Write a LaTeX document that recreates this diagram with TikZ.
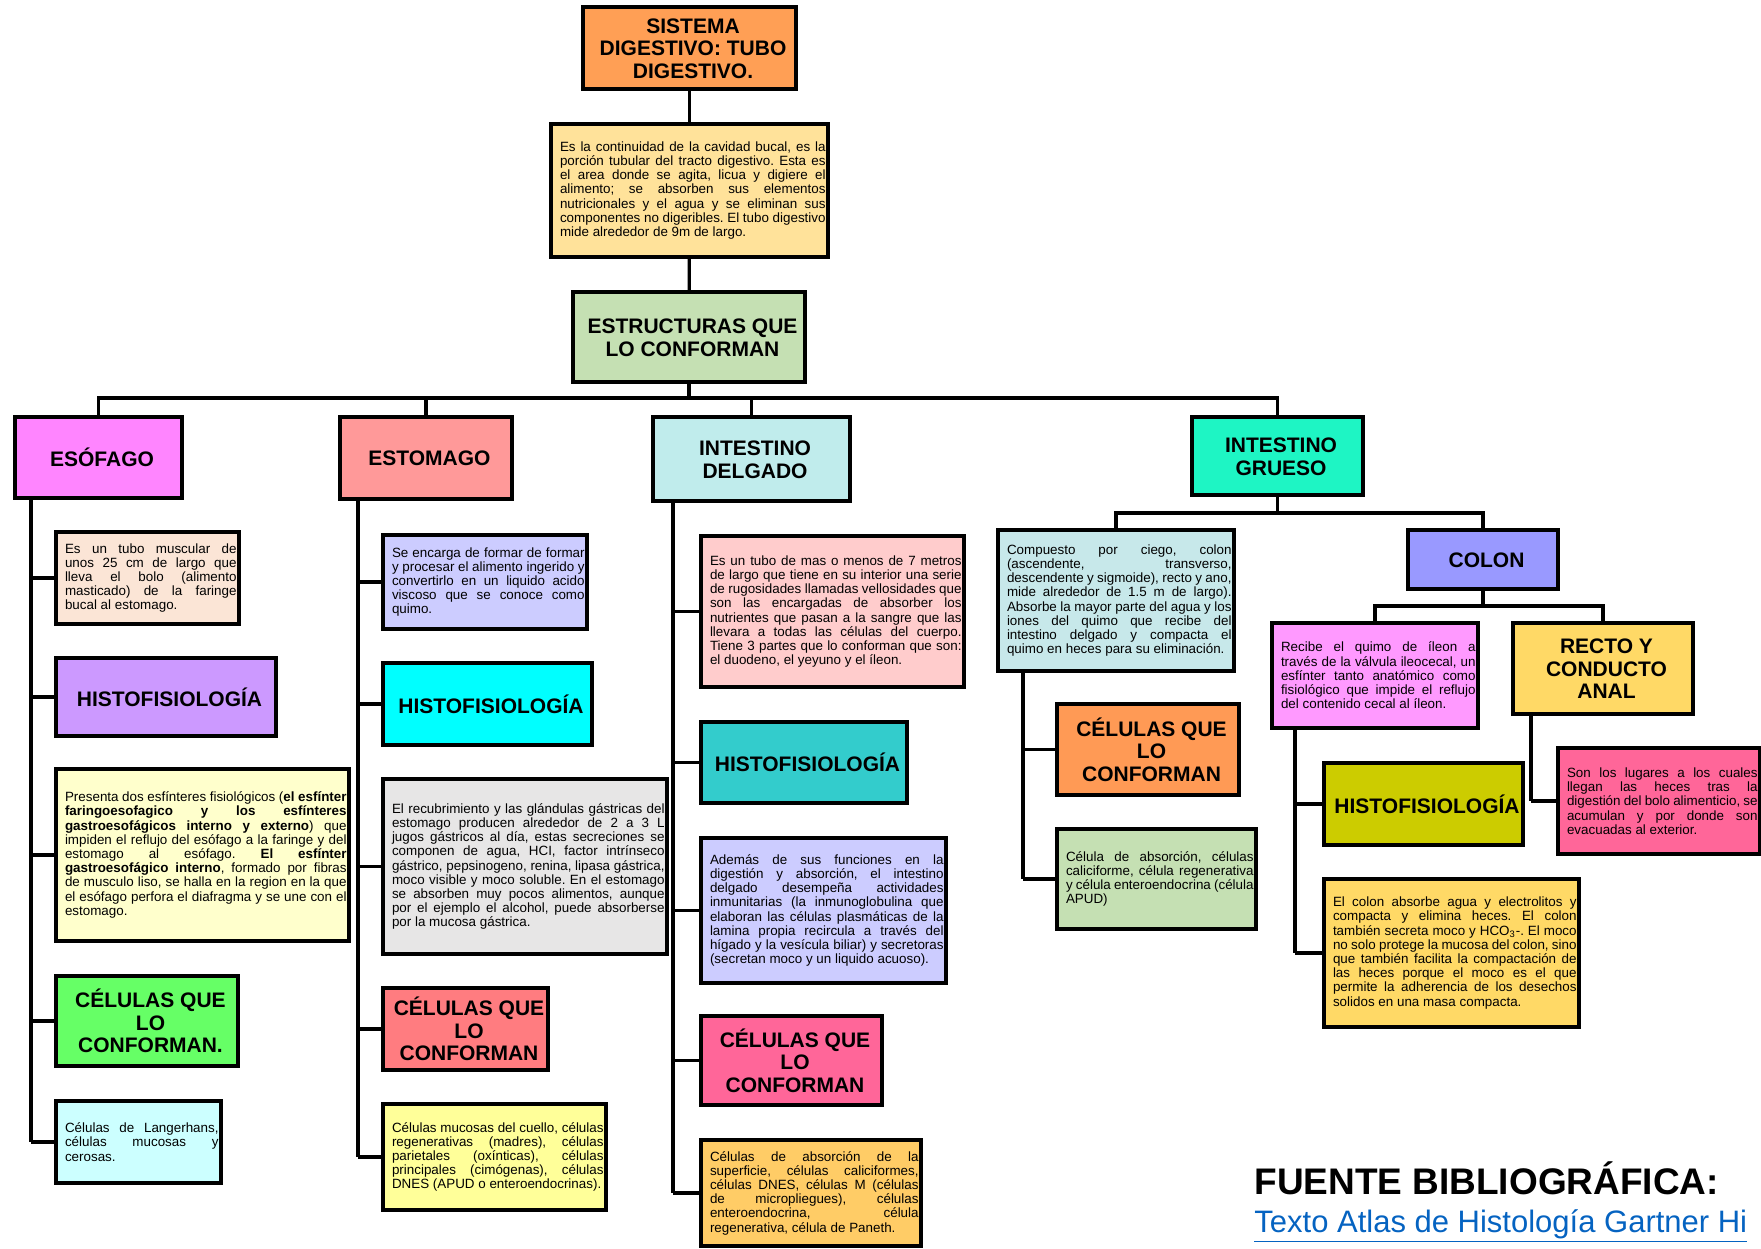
\documentclass[tikz,border=0pt]{standalone}
\usepackage{fontspec}
\setmainfont{Liberation Sans}
\newcommand\smtxt{\fontsize{6.7}{7.1}\selectfont}
\newcommand\ttltxt{\fontsize{10.5}{11.25}\selectfont\bfseries}
\newcommand\bxt[2]{\hspace*{3.3pt}\parbox{#1}{\smtxt\frenchspacing\hyphenpenalty=10000\exhyphenpenalty=10000\tolerance=10000\spaceskip=0.278em plus 2em minus 0.08em\relax\parindent=0pt #2}}
\newcommand\tl[1]{\hspace*{3.5pt}\begin{tabular}[b]{@{}c@{}}#1\end{tabular}}
\newcommand\br{\linebreak}
\definecolor{cTop}{HTML}{FF9F55}
\definecolor{cDesc}{HTML}{FFE29A}
\definecolor{cEstr}{HTML}{C5E0B3}
\definecolor{cEsof}{HTML}{FF85FF}
\definecolor{cEstom}{HTML}{FF9999}
\definecolor{cInDel}{HTML}{C0ECEC}
\definecolor{cInGr}{HTML}{1EF5C4}
\definecolor{cPeach}{HTML}{FBE5D6}
\definecolor{cLav}{HTML}{CC99FF}
\definecolor{cLYel}{HTML}{FFFFCC}
\definecolor{cGreen}{HTML}{66FF66}
\definecolor{cLCyan}{HTML}{CCFFFF}
\definecolor{cPeri}{HTML}{CCCCFF}
\definecolor{cCyan}{HTML}{00FFFF}
\definecolor{cGray}{HTML}{E7E6E6}
\definecolor{cSalm}{HTML}{FF7C80}
\definecolor{cYel}{HTML}{FFFF99}
\definecolor{cPink}{HTML}{FFCCCC}
\definecolor{cTeal}{HTML}{33CCCC}
\definecolor{cRose}{HTML}{FF6699}
\definecolor{cGold}{HTML}{FFCC66}
\definecolor{cAqua}{HTML}{C7E8EA}
\definecolor{cBlue}{HTML}{9999FF}
\definecolor{cOrng}{HTML}{FF9A55}
\definecolor{cMag}{HTML}{FF99FF}
\definecolor{cSand}{HTML}{FFD966}
\definecolor{cOlive}{HTML}{CCCC00}
\definecolor{cLink}{HTML}{0563C1}
\begin{document}
\begin{tikzpicture}[x=0.5pt,y=-0.5pt,
  conn/.style={line width=1.6pt,black},
  box/.style={draw=black,line width=1.6pt,inner sep=0pt},
  ttl/.style={box,font=\ttltxt,text depth=0pt},
  txt/.style={box,inner xsep=1.2pt},
]
\useasboundingbox (0,0) rectangle (1761,1248);
\clip (0,0) rectangle (1761,1248);

% main stem
\node[ttl,fill=cTop,minimum width=106.5pt,minimum height=41pt] (top) at (689.5,48) {\tl{SISTEMA\\DIGESTIVO: TUBO\\DIGESTIVO.}};
\node[txt,fill=cDesc,minimum width=138.5pt,minimum height=66.5pt] (desc) at (689.5,190.5)
 {\bxt{132.8pt}{Es la continuidad de la cavidad bucal, es la \br porción tubular del tracto digestivo. Esta es \br el area donde se agita, licua y digiere el \br alimento; se absorben sus elementos \br nutricionales y el agua y se eliminan sus \br componentes no digeribles. El tubo digestivo \br mide alrededor de 9m de largo.}};
\node[ttl,fill=cEstr,minimum width=116pt,minimum height=45pt] (estr) at (689,337) {\tl{ESTRUCTURAS QUE\\LO CONFORMAN}};

% level 1
\node[ttl,fill=cEsof,minimum width=83.5pt,minimum height=40.5pt] (esof) at (98.5,457.5) {\tl{ESÓFAGO}};
\node[ttl,fill=cEstom,minimum width=86pt,minimum height=41pt] (estom) at (426,458) {\tl{ESTOMAGO}};
\node[ttl,fill=cInDel,minimum width=98.5pt,minimum height=42pt] (indel) at (751.5,459) {\tl{INTESTINO\\DELGADO}};
\node[ttl,fill=cInGr,minimum width=85.5pt,minimum height=39pt] (ingr) at (1277.5,456) {\tl{INTESTINO\\GRUESO}};

% esofago column
\node[txt,fill=cPeach,minimum width=91.5pt,minimum height=46pt] (e1) at (147.5,578)
 {\bxt{85.8pt}{Es un tubo muscular de \br unos 25 cm de largo que \br lleva el bolo (alimento \br masticado) de la faringe \br bucal al estomago.}};
\node[ttl,fill=cLav,minimum width=110pt,minimum height=39pt] (e2) at (166,697) {\tl{HISTOFISIOLOGÍA}};
\node[txt,fill=cLYel,minimum width=146.5pt,minimum height=86pt] (e3) at (202.5,855)
 {\bxt{140.8pt}{Presenta dos esfínteres fisiológicos (\textbf{el esfínter \br faringoesofagico y los esfínteres \br gastroesofágicos interno y externo}) que \br impiden el reflujo del esófago a la faringe y del \br estomago al esófago. \textbf{El esfínter \br gastroesofágico interno}, formado por fibras \br de musculo liso, se halla en la region en la que \br el esófago perfora el diafragma y se une con el \br estomago.}};
\node[ttl,fill=cGreen,minimum width=91pt,minimum height=45pt] (e4) at (147,1021) {\tl{CÉLULAS QUE\\LO\\CONFORMAN.}};
\node[txt,fill=cLCyan,minimum width=82.5pt,minimum height=41pt] (e5) at (138.5,1142)
 {\bxt{76.8pt}{Células de Langerhans, \br células mucosas y \br cerosas.}};

% estomago column
\node[txt,fill=cPeri,minimum width=102pt,minimum height=47pt] (s1) at (485,582)
 {\bxt{96.3pt}{Se encarga de formar de formar \br y procesar el alimento ingerido y \br convertirlo en un liquido acido \br viscoso que se conoce como \br quimo.}};
\node[ttl,fill=cCyan,minimum width=104.5pt,minimum height=41pt] (s2) at (487.5,704) {\tl{HISTOFISIOLOGÍA}};
\node[txt,fill=cGray,minimum width=142pt,minimum height=87.5pt] (s3) at (525,866.5)
 {\bxt{136.3pt}{El recubrimiento y las glándulas gástricas del \br estomago producen alrededor de 2 a 3 L \br jugos gástricos al día, estas secreciones se \br componen de agua, HCI, factor intrínseco \br gástrico, pepsinogeno, renina, lipasa gástrica, \br moco visible y moco soluble. En el estomago \br se absorben muy pocos alimentos, aunque \br por el ejemplo el alcohol, puede absorberse \br por la mucosa gástrica.}};
\node[ttl,fill=cSalm,minimum width=82.5pt,minimum height=41pt] (s4) at (465.5,1029) {\tl{CÉLULAS QUE\\LO\\CONFORMAN}};
\node[txt,fill=cYel,minimum width=111.5pt,minimum height=53pt] (s5) at (494.5,1157)
 {\bxt{105.8pt}{Células mucosas del cuello, células \br regenerativas (madres), células \br parietales (oxínticas), células \br principales (cimógenas), células \br DNES (APUD o enteroendocrinas).}};

% intestino delgado column
\node[txt,fill=cPink,minimum width=131.5pt,minimum height=75.5pt] (d1) at (832.5,611.5)
 {\bxt{125.8pt}{Es un tubo de mas o menos de 7 metros \br de largo que tiene en su interior una serie \br de rugosidades llamadas vellosidades que \br son las encargadas de absorber los \br nutrientes que pasan a la sangre que las \br llevara a todas las células del cuerpo. \br Tiene 3 partes que lo conforman que son: \br el duodeno, el yeyuno y el íleon.}};
\node[ttl,fill=cTeal,minimum width=103pt,minimum height=40.5pt] (d2) at (804,762.5) {\tl{HISTOFISIOLOGÍA}};
\node[txt,fill=cPeri,minimum width=122.5pt,minimum height=72.5pt] (d3) at (823.5,910.5)
 {\bxt{116.8pt}{Además de sus funciones en la \br digestión y absorción, el intestino \br delgado desempeña actividades \br inmunitarias (la inmunoglobulina que \br elaboran las células plasmáticas de la \br lamina propia recircula a través del \br hígado y la vesícula biliar) y secretoras \br (secretan moco y un liquido acuoso).}};
\node[ttl,fill=cRose,minimum width=90.5pt,minimum height=44.5pt] (d4) at (791.5,1060.5) {\tl{CÉLULAS QUE\\LO\\CONFORMAN}};
\node[txt,fill=cGold,minimum width=110pt,minimum height=53pt] (d5) at (811,1193)
 {\bxt{104.3pt}{Células de absorción de la \br superficie, células caliciformes, \br células DNES, células M (células \br de micropliegues), células \br enteroendocrina, célula \br regenerativa, célula de Paneth.}};

% intestino grueso
\node[txt,fill=cAqua,minimum width=118pt,minimum height=70.5pt] (g1) at (1116,600.5)
 {\bxt{112.3pt}{Compuesto por ciego, colon \br (ascendente, transverso, \br descendente y sigmoide), recto y ano, \br mide alrededor de 1.5 m de largo). \br Absorbe la mayor parte del agua y los \br iones del quimo que recibe del \br intestino delgado y compacta el \br quimo en heces para su eliminación.}};
\node[ttl,fill=cBlue,minimum width=75pt,minimum height=29.5pt] (colon) at (1483,559.5) {\tl{COLON}};
\node[ttl,fill=cOrng,minimum width=91pt,minimum height=45.5pt] (g2) at (1148,749.5) {\tl{CÉLULAS QUE\\LO\\CONFORMAN}};
\node[txt,fill=cEstr,minimum width=99.5pt,minimum height=50pt] (g3) at (1156.5,879)
 {\bxt{93.8pt}{Célula de absorción, células \br caliciforme, célula regenerativa \br y célula enteroendocrina (célula \br APUD)}};
\node[txt,fill=cMag,minimum width=103pt,minimum height=52.5pt] (c1) at (1375,675.5)
 {\bxt{97.3pt}{Recibe el quimo de íleon a \br través de la válvula ileocecal, un \br esfínter tanto anatómico como \br fisiológico que impide el reflujo \br del contenido cecal al íleon.}};
\node[ttl,fill=cSand,minimum width=90pt,minimum height=45.5pt] (c2) at (1603,668.5) {\tl{RECTO Y\\CONDUCTO\\ANAL}};
\node[ttl,fill=cOlive,minimum width=99.5pt,minimum height=41pt] (c3) at (1423.5,804) {\tl{HISTOFISIOLOGÍA}};
\node[txt,fill=cSand,minimum width=127.5pt,minimum height=74pt] (c4) at (1451.5,953)
 {\bxt{121.8pt}{El colon absorbe agua y electrolitos y \br compacta y elimina heces. El colon \br también secreta moco y HCO\textsubscript{3}-. El moco \br no solo protege la mucosa del colon, sino \br que también facilita la compactación de \br las heces porque el moco es el que \br permite la adherencia de los desechos \br solidos en una masa compacta.}};
\node[txt,fill=cRose,minimum width=101pt,minimum height=53pt] (c5) at (1659,801)
 {\bxt{95.3pt}{Son los lugares a los cuales \br llegan las heces tras la \br digestión del bolo alimenticio, se \br acumulan y por donde son \br evacuadas al exterior.}};

% source
\node[anchor=base west,inner sep=0pt,font=\fontsize{18.5}{20}\selectfont\bfseries] (fuente) at (1254,1194) {FUENTE BIBLIOGRÁFICA:};
\node[anchor=base west,inner sep=0pt,text=cLink,font=\fontsize{15.5}{17}\selectfont] (link) at (1254,1232) {\underline{Texto Atlas de Histología Gartner Hi}};

% coordinates
\coordinate (bar) at (690,398);
\coordinate (gbar) at (1278,513);
\coordinate (cbar) at (1484,606);
\coordinate (ecol) at (31,0);
\coordinate (scol) at (358,0);
\coordinate (dcol) at (673,0);
\coordinate (gcol) at (1023,0);
\coordinate (c1col) at (1295,0);
\coordinate (c2col) at (1531,0);

% connectors
\draw[conn] (top) -- (desc);
\draw[conn] (desc) -- (estr);
\draw[conn] (estr.south) -- (estr.south |- bar);
\draw[conn] (esof.north) -- (esof.north |- bar) -- (ingr.north |- bar) -- (ingr.north);
\draw[conn] (estom.north) -- (estom.north |- bar);
\draw[conn] (indel.north) -- (indel.north |- bar);

\draw[conn] (esof.south -| ecol) -- (e5.west -| ecol);
\foreach \n in {e1,e2,e3,e4,e5} \draw[conn] (\n.west) -- (\n.west -| ecol);
\draw[conn] (estom.south -| scol) -- (s5.west -| scol);
\foreach \n in {s1,s2,s3,s4,s5} \draw[conn] (\n.west) -- (\n.west -| scol);
\draw[conn] (indel.south -| dcol) -- (d5.west -| dcol);
\foreach \n in {d1,d2,d3,d4,d5} \draw[conn] (\n.west) -- (\n.west -| dcol);

\draw[conn] (ingr.south) -- (ingr.south |- gbar);
\draw[conn] (g1.north) -- (g1.north |- gbar) -- (colon.north |- gbar) -- (colon.north);
\draw[conn] (g1.south -| gcol) -- (g3.west -| gcol);
\foreach \n in {g2,g3} \draw[conn] (\n.west) -- (\n.west -| gcol);
\draw[conn] (colon.south) -- (colon.south |- cbar);
\draw[conn] (c1.north) -- (c1.north |- cbar) -- (c2.north |- cbar) -- (c2.north);
\draw[conn] (c1.south -| c1col) -- (c4.west -| c1col);
\foreach \n in {c3,c4} \draw[conn] (\n.west) -- (\n.west -| c1col);
\draw[conn] (c2.south -| c2col) -- (c5.west -| c2col);
\draw[conn] (c5.west) -- (c5.west -| c2col);
\end{tikzpicture}
\end{document}
